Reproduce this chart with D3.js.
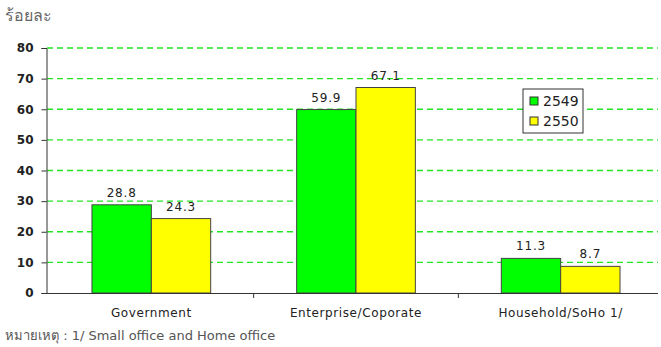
<!DOCTYPE html>
<html>
<head>
<meta charset="utf-8">
<script src="https://cdn.jsdelivr.net/npm/d3@7"></script>
<style>
  body { margin: 0; background: #fff; }
  text { font-family: "DejaVu Sans", "Noto Sans", sans-serif; }
</style>
</head>
<body>
<div id="chart"></div>
<script>
const categories = ["Government", "Enterprise/Coporate", "Household/SoHo 1/"];
const years = ["2549", "2550"];
const values2549 = [28.8, 59.9, 11.3];
const values2550 = [24.3, 67.1, 8.7];
const yTicks = [0, 10, 20, 30, 40, 50, 60, 70, 80];

const width = 661, height = 347;
const colors = { "2549": "#00ff00", "2550": "#ffff00" };

const svg = d3.select("#chart").append("svg")
  .attr("width", width)
  .attr("height", height);

const x = d3.scaleBand()
  .domain(categories)
  .range([49, 663])
  .paddingInner(0.42)
  .paddingOuter(0.21);

const xSub = d3.scaleBand()
  .domain(years)
  .range([0, x.bandwidth()]);

const y = d3.scaleLinear()
  .domain([0, 80])
  .range([293, 48]);

// grid lines
svg.append("g")
  .selectAll("line")
  .data(yTicks.filter((d) => d > 0))
  .join("line")
  .attr("x1", 47)
  .attr("x2", 658)
  .attr("y1", (d) => y(d))
  .attr("y2", (d) => y(d))
  .attr("stroke", "#22e622")
  .attr("stroke-width", 1.3)
  .attr("stroke-dasharray", "6,4");

// bars
const rows = categories.map((c, i) => ({ cat: c, vals: [values2549[i], values2550[i]] }));

const groups = svg.append("g")
  .selectAll("g")
  .data(rows)
  .join("g")
  .attr("transform", (d) => `translate(${x(d.cat)},0)`);

groups.selectAll("rect")
  .data((d) => d.vals.map((v, j) => ({ year: years[j], v: v })))
  .join("rect")
  .attr("x", (d) => xSub(d.year))
  .attr("width", xSub.bandwidth())
  .attr("y", (d) => y(d.v))
  .attr("height", (d) => y(0) - y(d.v))
  .attr("fill", (d) => colors[d.year])
  .attr("stroke", "#444")
  .attr("stroke-width", 1);

groups.selectAll("text")
  .data((d) => d.vals.map((v, j) => ({ year: years[j], v: v })))
  .join("text")
  .attr("x", (d) => xSub(d.year) + xSub.bandwidth() / 2)
  .attr("y", (d) => y(d.v) - 8)
  .attr("text-anchor", "middle")
  .attr("font-size", 12)
  .attr("letter-spacing", 0.8)
  .attr("fill", "#222")
  .text((d) => d.v.toFixed(1));

// y axis
const yAxis = d3.axisLeft(y)
  .tickValues(yTicks)
  .tickSize(5)
  .tickPadding(8);

svg.append("g")
  .attr("transform", "translate(46.5,0)")
  .call(yAxis)
  .call((g) => g.select(".domain").attr("stroke", "#333"))
  .call((g) => g.selectAll(".tick line").attr("stroke", "#333"))
  .call((g) => g.selectAll("text")
    .attr("font-size", 12)
    .attr("font-weight", "bold")
    .attr("fill", "#222")
    .attr("font-family", "DejaVu Sans, sans-serif"));

// x axis
svg.append("line")
  .attr("x1", 46)
  .attr("x2", 658)
  .attr("y1", 293.5)
  .attr("y2", 293.5)
  .attr("stroke", "#333");

const step = x.step();
svg.append("g")
  .selectAll("line")
  .data(categories.slice(1))
  .join("line")
  .attr("x1", (d) => x(d) - (step - x.bandwidth()) / 2)
  .attr("x2", (d) => x(d) - (step - x.bandwidth()) / 2)
  .attr("y1", 293)
  .attr("y2", 298)
  .attr("stroke", "#333");

svg.append("g")
  .selectAll("text")
  .data(categories)
  .join("text")
  .attr("x", (d) => x(d) + x.bandwidth() / 2)
  .attr("y", 317)
  .attr("text-anchor", "middle")
  .attr("font-size", 12)
  .attr("letter-spacing", 0.6)
  .attr("fill", "#222")
  .text((d) => d);

// legend
const legend = svg.append("g").attr("transform", "translate(523,89)");
legend.append("rect")
  .attr("width", 60)
  .attr("height", 44)
  .attr("fill", "#fff")
  .attr("stroke", "#333");
years.forEach((yr, i) => {
  legend.append("rect")
    .attr("x", 7)
    .attr("y", 8 + i * 20)
    .attr("width", 8)
    .attr("height", 8)
    .attr("fill", colors[yr])
    .attr("stroke", "#333");
  legend.append("text")
    .attr("x", 20)
    .attr("y", 17 + i * 20)
    .attr("font-size", 14)
    .attr("fill", "#222")
    .text(yr);
});

// titles
svg.append("text")
  .attr("x", 5)
  .attr("y", 21)
  .attr("font-size", 16)
  .attr("fill", "#666")
  .attr("font-family", "Noto Sans, sans-serif")
  .text("ร้อยละ");

svg.append("text")
  .attr("x", 5)
  .attr("y", 340)
  .attr("font-size", 13)
  .attr("fill", "#555")
  .text("หมายเหตุ : 1/ Small office and Home office");
</script>
</body>
</html>
